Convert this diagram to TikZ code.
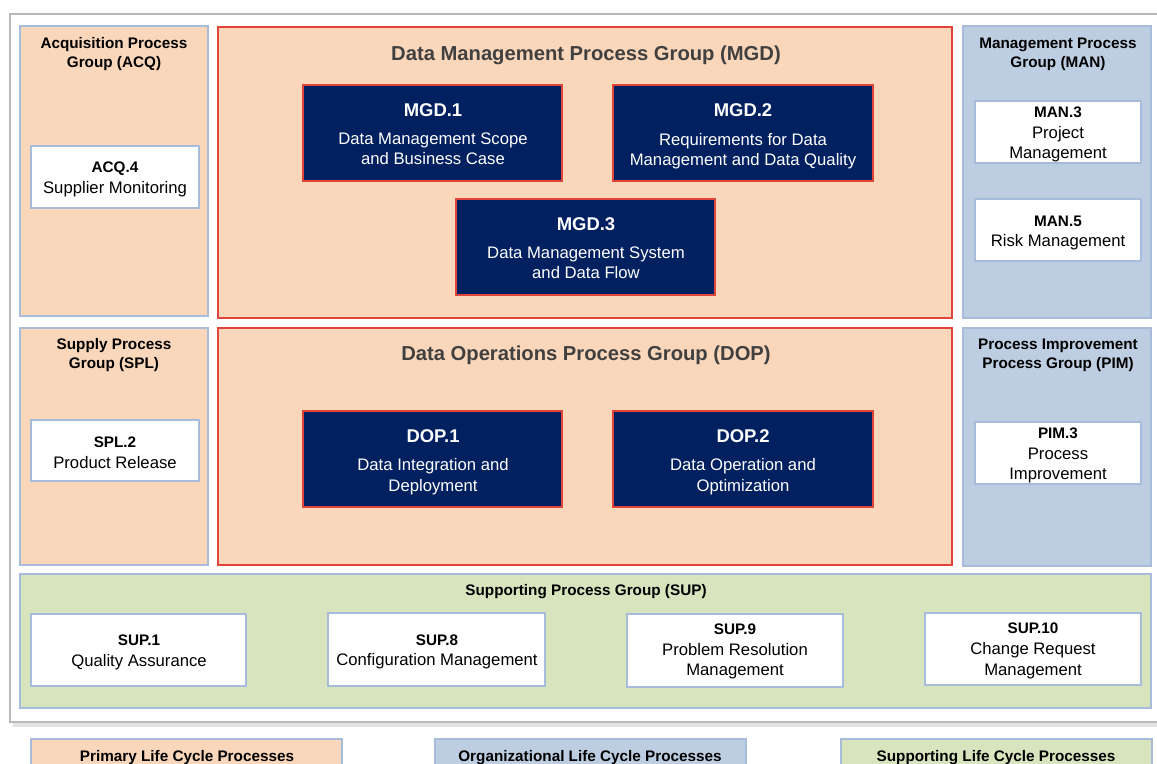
\documentclass[tikz,border=0pt]{standalone}
\usepackage{fontspec}
\setmainfont{Liberation Sans}
\usepackage{xcolor}

\definecolor{peach}{HTML}{FAD6BA}
\definecolor{orgblue}{HTML}{BDCEE2}
\definecolor{supgreen}{HTML}{D7E4BD}
\definecolor{edgeblue}{HTML}{A7BCDA}
\definecolor{mgdred}{HTML}{E0453C}
\definecolor{navy}{HTML}{002060}
\definecolor{titlegrey}{HTML}{404040}

\tikzset{
  grpbox/.style={draw=edgeblue, line width=0.85pt},
  redbox/.style={draw=mgdred, fill=peach, line width=0.9pt},
  procbox/.style={draw=edgeblue, fill=white, line width=0.9pt},
  navybox/.style={draw=mgdred, fill=navy, line width=0.9pt},
  grptitle/.style={align=center, font=\bfseries\fontsize{8.7}{10.8}\selectfont},
  bigtitle/.style={font=\bfseries\fontsize{11.5}{13}\selectfont, text=titlegrey},
  proctext/.style={align=center, font=\fontsize{9.5}{11.8}\selectfont},
  navytext/.style={align=center, text=white, font=\fontsize{9.5}{11.6}\selectfont},
}
\newcommand{\pid}[1]{{\bfseries\fontsize{8.7}{11.8}\selectfont #1}}
\newcommand{\nid}[1]{{\bfseries\fontsize{10.5}{12}\selectfont #1}\\[4.5pt]}

\begin{document}
\begin{tikzpicture}[x=0.02cm, y=-0.02cm]
\useasboundingbox (0,0) rectangle (1157,764);
\clip (0,0) rectangle (1157,764);

% outer frame
\fill[gray!22] (13,18) rectangle (1180,727);
\filldraw[draw=gray!55, fill=white, line width=1pt] (10,14) rectangle (1175,722);

% primary groups
\filldraw[grpbox, fill=peach] (20,26) rectangle (208,316);
\node[grptitle] (acq) at (114,54.5) {Acquisition Process\\Group (ACQ)};
\filldraw[procbox] (31,146) rectangle (199,208);
\node[proctext] (acq4) at (115,179.5) {\pid{ACQ.4}\\Supplier Monitoring};

\filldraw[grpbox, fill=peach] (20,328) rectangle (208,565);
\node[grptitle] (spl) at (114,355.5) {Supply Process\\Group (SPL)};
\filldraw[procbox] (31,420) rectangle (199,481);
\node[proctext] (spl2) at (115,453) {\pid{SPL.2}\\Product Release};

% data management
\filldraw[redbox] (218,27) rectangle (952,318);
\node[bigtitle] (mgd) at (586,55) {Data Management Process Group (MGD)};
\filldraw[navybox] (303,85) rectangle (562,181);
\node[navytext] (mgd1) at (433,134) {\nid{MGD.1}Data Management Scope\\and Business Case};
\filldraw[navybox] (613,85) rectangle (873,181);
\node[navytext] (mgd2) at (743,136.5) {\nid{MGD.2}Requirements for Data\\Management and Data Quality};
\filldraw[navybox] (456,199) rectangle (715,295);
\node[navytext] (mgd3) at (586,248) {\nid{MGD.3}Data Management System\\and Data Flow};

% data operations
\filldraw[redbox] (218,328) rectangle (952,565);
\node[bigtitle] (dop) at (586,355) {Data Operations Process Group (DOP)};
\filldraw[navybox] (303,411) rectangle (562,507);
\node[navytext] (dop1) at (433,462) {\nid{DOP.1}Data Integration and\\Deployment};
\filldraw[navybox] (613,411) rectangle (873,507);
\node[navytext] (dop2) at (743,462) {\nid{DOP.2}Data Operation and\\Optimization};

% organizational groups
\filldraw[grpbox, fill=orgblue] (963,26) rectangle (1151,318);
\node[grptitle] (man) at (1058,54.5) {Management Process\\Group (MAN)};
\filldraw[procbox] (975,101) rectangle (1141,163);
\node[proctext] (man3) at (1058,134.5) {\pid{MAN.3}\\Project\\Management};
\filldraw[procbox] (975,199) rectangle (1141,261);
\node[proctext] (man5) at (1058,233) {\pid{MAN.5}\\Risk Management};

\filldraw[grpbox, fill=orgblue] (963,328) rectangle (1151,566);
\node[grptitle] (pim) at (1058,355.5) {Process Improvement\\Process Group (PIM)};
\filldraw[procbox] (975,422) rectangle (1141,484);
\node[proctext] (pim3) at (1058,455.5) {\pid{PIM.3}\\Process\\Improvement};

% supporting group
\filldraw[grpbox, fill=supgreen] (20,574) rectangle (1151,708);
\node[grptitle] (sup) at (586,592) {Supporting Process Group (SUP)};
\filldraw[procbox] (31,614) rectangle (246,686);
\node[proctext] (sup1) at (139,652.5) {\pid{SUP.1}\\Quality Assurance};
\filldraw[procbox] (328,613) rectangle (545,686);
\node[proctext] (sup8) at (437,652) {\pid{SUP.8}\\Configuration Management};
\filldraw[procbox] (627,614) rectangle (843,687);
\node[proctext] (sup9) at (735,651.5) {\pid{SUP.9}\\Problem Resolution\\Management};
\filldraw[procbox] (925,613) rectangle (1141,685);
\node[proctext] (sup10) at (1033,651) {\pid{SUP.10}\\Change Request\\Management};

% legend
\filldraw[grpbox, fill=peach] (31,739) rectangle (342,795);
\node[grptitle] (lprim) at (187,758) {Primary Life Cycle Processes};
\filldraw[grpbox, fill=orgblue] (435,739) rectangle (746,795);
\node[grptitle] (lorg) at (590,758) {Organizational Life Cycle Processes};
\filldraw[grpbox, fill=supgreen] (841,739) rectangle (1152,795);
\node[grptitle] (lsup) at (996,758) {Supporting Life Cycle Processes};
\end{tikzpicture}
\end{document}
